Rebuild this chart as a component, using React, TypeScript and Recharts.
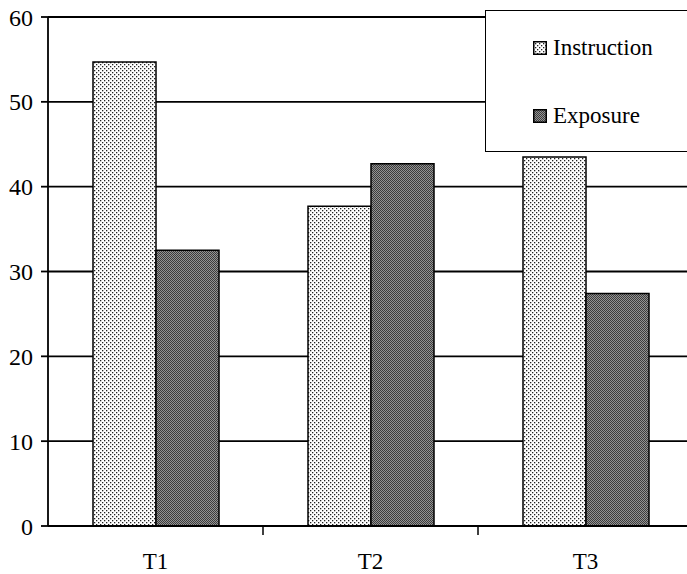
import React from 'react';
import { BarChart, Bar, XAxis, YAxis, CartesianGrid, Legend } from 'recharts';

const categories = ['T1', 'T2', 'T3'];
const instruction = [54.7, 37.7, 43.5];
const exposure = [32.5, 42.7, 27.4];
const yTicks = [0, 10, 20, 30, 40, 50, 60];

const data = categories.map((name, i) => ({
  name,
  Instruction: instruction[i],
  Exposure: exposure[i],
}));

const FONT = '"Liberation Serif", "Times New Roman", serif';

const series = [
  { key: 'Instruction', fill: 'url(#dotsLight)' },
  { key: 'Exposure', fill: 'url(#dotsDark)' },
];

// Shared fill patterns (used by both bars and legend swatches)
const Patterns = () => (
  <svg width={0} height={0} style={{ position: 'absolute' }}>
    <defs>
      <pattern id="dotsLight" width={4} height={4} patternUnits="userSpaceOnUse">
        <rect width={4} height={4} fill="#fff" />
        <rect x={0} y={0} width={1.3} height={1.3} fill="#222" />
        <rect x={2} y={2} width={1.3} height={1.3} fill="#222" />
      </pattern>
      <pattern id="dotsDark" width={2} height={2} patternUnits="userSpaceOnUse">
        <rect width={2} height={2} fill="#939393" />
        <rect x={0} y={0} width={1} height={1} fill="#3c3c3c" />
        <rect x={1} y={1} width={1} height={1} fill="#3c3c3c" />
      </pattern>
    </defs>
  </svg>
);

// Category label centred in the band, tick mark on the band's right edge
const CategoryTick = (props: any) => {
  const { x, y, payload, width, visibleTicksCount } = props;
  const w = typeof width === 'number' ? width : 645;
  const band = w / (visibleTicksCount || 3);
  const edge = x + band / 2;
  return (
    <g>
      <line x1={edge} x2={edge} y1={y} y2={y + 9} stroke="#000" strokeWidth={1.5} />
      <text x={x} y={y + 43} textAnchor="middle" fontFamily={FONT} fontSize={23} fill="#000">
        {payload.value}
      </text>
    </g>
  );
};

const LegendBox = () => (
  <div
    style={{
      width: 230,
      height: 142,
      boxSizing: 'border-box',
      border: '1.5px solid #000',
      background: '#fff',
      position: 'relative',
      fontFamily: FONT,
      fontSize: 23,
    }}
  >
    {series.map((s, i) => (
      <div
        key={s.key}
        style={{
          position: 'absolute',
          left: 47,
          top: 24 + i * 68,
          height: 26,
          display: 'flex',
          alignItems: 'center',
        }}
      >
        <svg width={14} height={14} style={{ marginRight: 6 }}>
          <rect x={0.75} y={0.75} width={12.5} height={12.5} fill={s.fill} stroke="#000" strokeWidth={1.5} />
        </svg>
        <span style={{ color: '#000' }}>{s.key}</span>
      </div>
    ))}
  </div>
);

export default function App() {
  return (
    <div style={{ position: 'absolute', left: 0, top: 0, width: 687, height: 574, overflow: 'hidden', background: '#fff' }}>
      <Patterns />
      <BarChart
        width={700}
        height={574}
        data={data}
        margin={{ top: 17, right: 7, left: 0, bottom: 8 }}
        barCategoryGap={45}
        barGap={0}
      >
        <CartesianGrid vertical={false} stroke="#000" strokeWidth={1.8} />
        <XAxis
          dataKey="name"
          height={40}
          tickSize={0}
          tickMargin={0}
          tickLine={false}
          axisLine={{ stroke: '#000', strokeWidth: 1.8 }}
          tick={<CategoryTick />}
          interval={0}
        />
        <YAxis
          width={48}
          domain={[0, 60]}
          ticks={yTicks}
          tickSize={7}
          tickMargin={8}
          axisLine={{ stroke: '#000', strokeWidth: 1.8 }}
          tickLine={{ stroke: '#000', strokeWidth: 1.8 }}
          tick={{ fill: '#000', fontFamily: FONT, fontSize: 24 }}
        />
        <Legend
          layout="vertical"
          align="center"
          verticalAlign="middle"
          content={<LegendBox />}
          wrapperStyle={{ left: 485, top: 10, width: 230, height: 142 }}
        />
        {series.map((s) => (
          <Bar
            key={s.key}
            dataKey={s.key}
            fill={s.fill}
            stroke="#000"
            strokeWidth={1.5}
            isAnimationActive={false}
          />
        ))}
      </BarChart>
    </div>
  );
}
